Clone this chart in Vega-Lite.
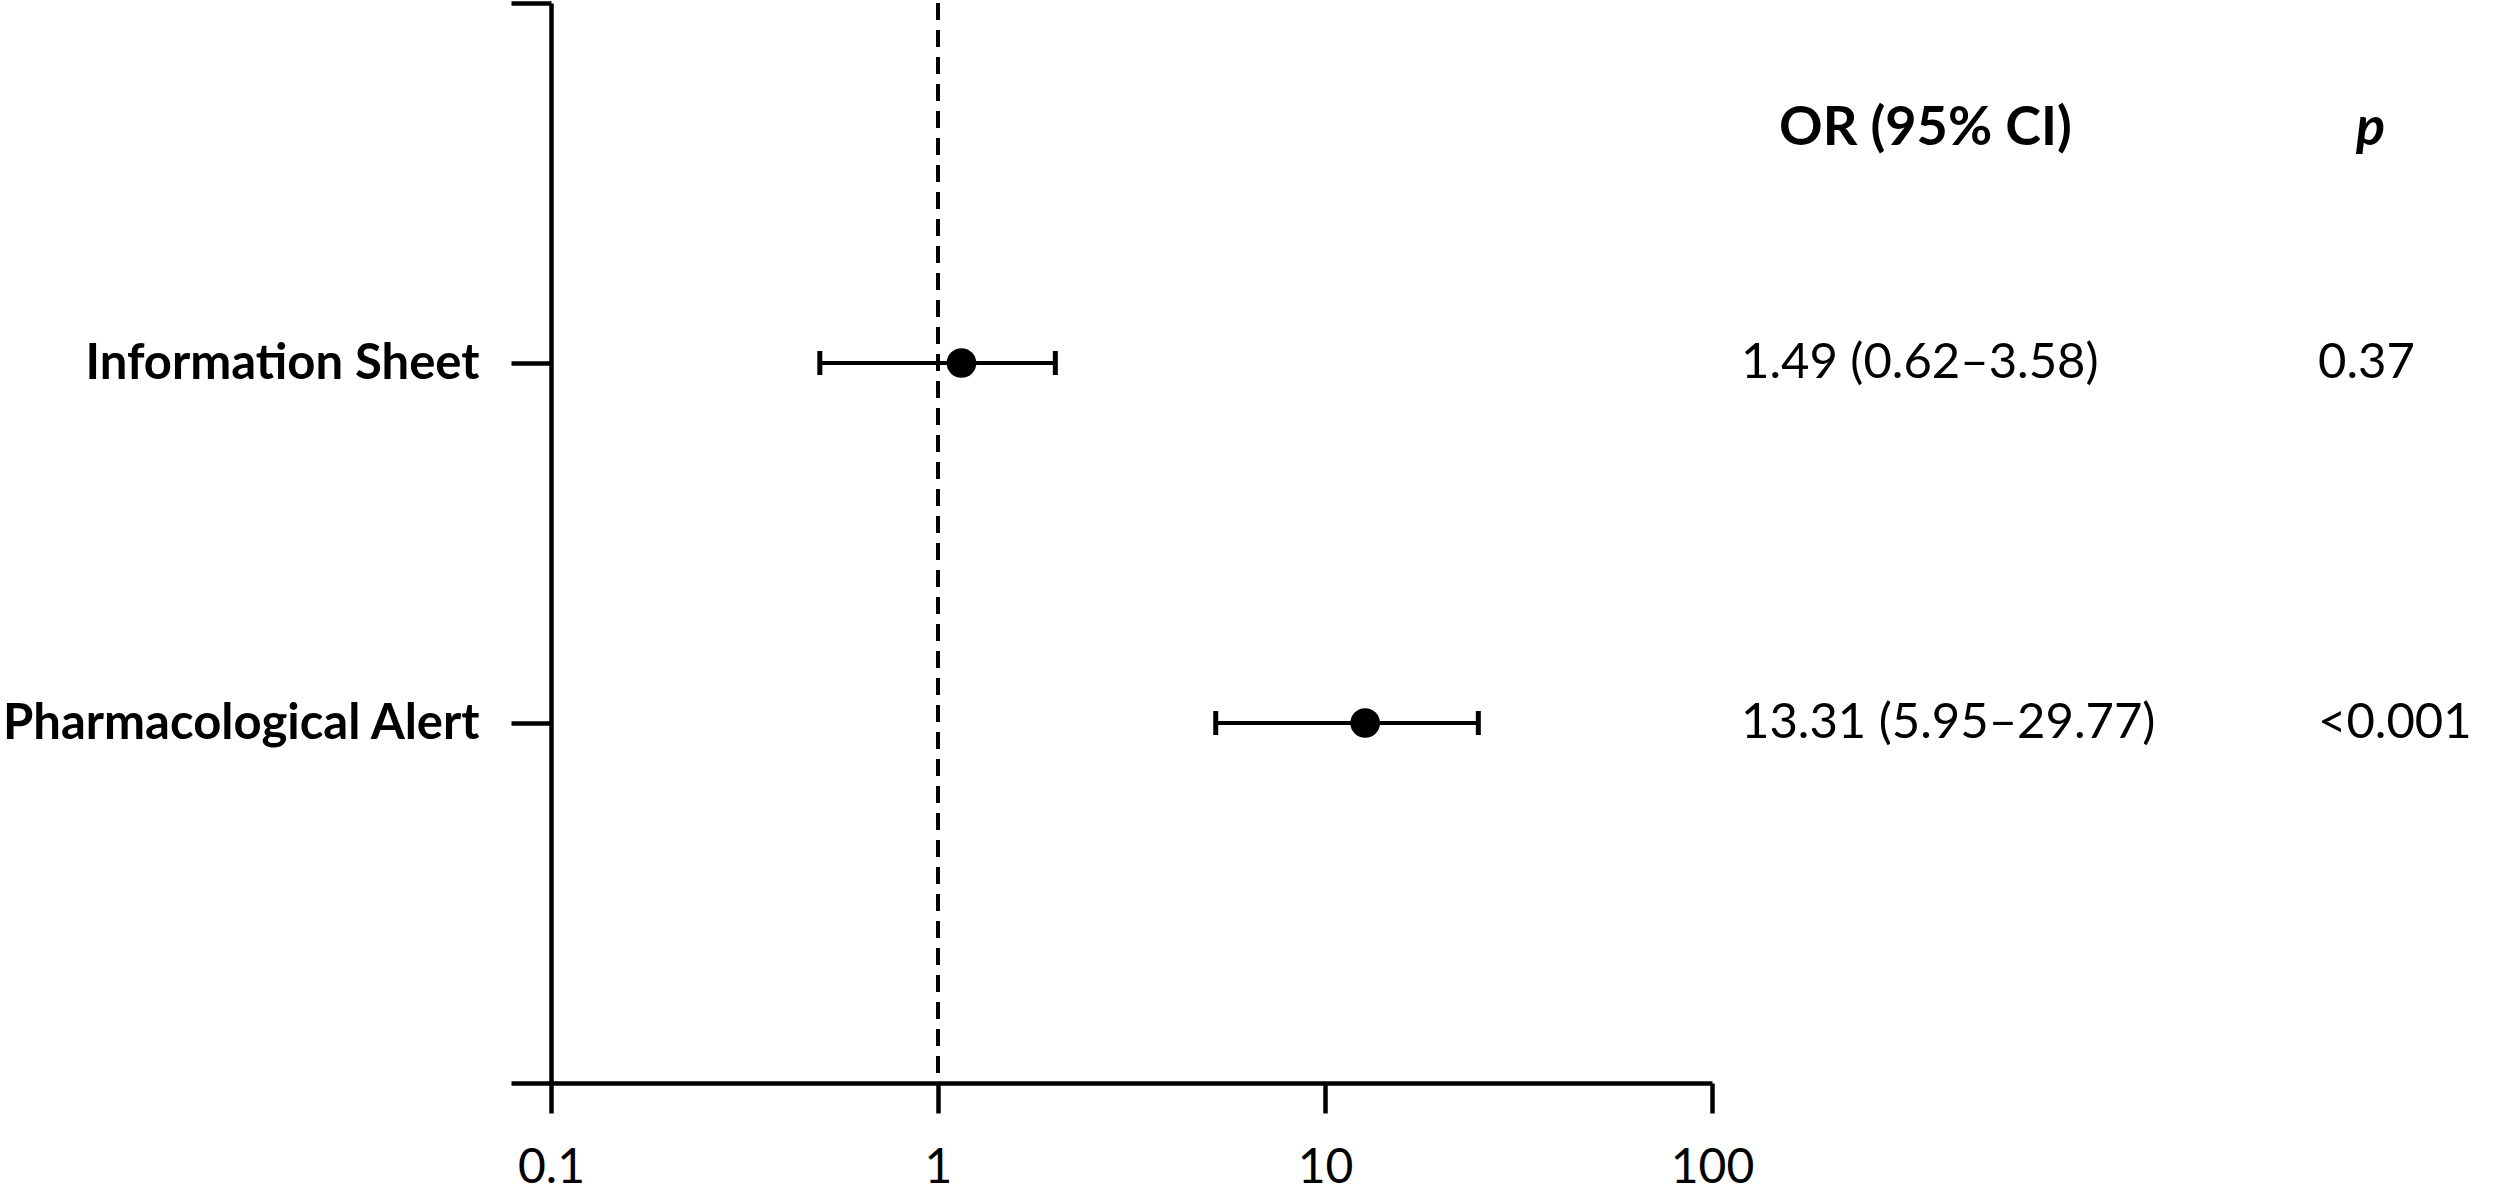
{
  "$schema": "https://vega.github.io/schema/vega-lite/v6.json",
  "padding": 0,
  "background": "white",
  "bounds": "flush",
  "spacing": 29,
  "config": {"view": {"stroke": null}, "font": "Lato"},
  "datasets": {
    "est": [
      {"row": "Information Sheet", "or": 1.15, "lo": 0.495, "hi": 2.01},
      {"row": "Pharmacological Alert", "or": 12.7, "lo": 5.22, "hi": 24.9}
    ],
    "table": [
      {"row": "Information Sheet", "col": "ci", "text": "1.49 (0.62–3.58)"},
      {"row": "Information Sheet", "col": "p", "text": "0.37"},
      {"row": "Pharmacological Alert", "col": "ci", "text": "13.31 (5.95–29.77)"},
      {"row": "Pharmacological Alert", "col": "p", "text": "<0.001"}
    ],
    "headers": [
      {"row": "top", "col": "ci", "text": "OR (95% CI)"},
      {"row": "top", "col": "p", "text": "p"}
    ]
  },
  "hconcat": [
    {
      "width": 1161,
      "height": 1080,
      "data": {"name": "est"},
      "encoding": {
        "y": {
          "field": "row",
          "type": "nominal",
          "scale": {"type": "point", "domain": ["top", "Information Sheet", "Pharmacological Alert", "bottom"], "padding": 0},
          "axis": {
            "title": null,
            "labelExpr": "datum.value == 'top' || datum.value == 'bottom' ? '' : datum.value",
            "domainWidth": 4.5, "domainColor": "black",
            "tickWidth": 4.5, "tickColor": "black", "tickSize": 40,
            "labelPadding": 32, "labelFont": "Lato",
            "labelFontSize": {"condition": {"test": "datum.value == 'top' || datum.value == 'bottom'", "value": 1}, "value": 49},
            "labelBaseline": {"condition": {"test": "datum.value == 'top'", "value": "top"}, "value": "middle"},
            "labelFontWeight": "bold",
            "labelColor": "black", "labelLimit": 0, "grid": false
          }
        }
      },
      "layer": [
        {
          "mark": {"type": "rule", "strokeDash": [17, 10], "strokeWidth": 4, "color": "black"},
          "encoding": {"x": {"datum": 1, "type": "quantitative"}, "y": null}
        },
        {
          "mark": {"type": "rule", "strokeWidth": 4, "color": "black"},
          "encoding": {
            "x": {"field": "lo", "type": "quantitative"},
            "x2": {"field": "hi"}
          }
        },
        {
          "mark": {"type": "tick", "orient": "vertical", "size": 24, "thickness": 5, "color": "black", "opacity": 1},
          "encoding": {"x": {"field": "lo", "type": "quantitative"}}
        },
        {
          "mark": {"type": "tick", "orient": "vertical", "size": 24, "thickness": 5, "color": "black", "opacity": 1},
          "encoding": {"x": {"field": "hi", "type": "quantitative"}}
        },
        {
          "mark": {"type": "circle", "size": 880, "color": "black", "opacity": 1},
          "encoding": {
            "x": {
              "field": "or",
              "type": "quantitative",
              "scale": {"type": "log", "domain": [0.1, 100], "nice": false},
              "axis": {
                "title": null,
                "values": [0.1, 1, 10, 100],
                "format": "~g",
                "grid": false,
                "domainWidth": 4.5, "domainColor": "black",
                "tickWidth": 4.5, "tickColor": "black", "tickSize": 30,
                "labelFont": "Lato", "labelFontSize": 48, "labelColor": "black",
                "labelPadding": 31, "labelFlush": false
              }
            }
          }
        }
      ]
    },
    {
      "width": 577,
      "height": 1080,
      "encoding": {
        "x": {"field": "col", "type": "nominal", "scale": {"type": "point", "domain": ["ci", "p"], "padding": 0}, "axis": null},
        "y": {"field": "row", "type": "nominal", "scale": {"type": "point", "domain": ["top", "Information Sheet", "Pharmacological Alert", "bottom"], "padding": 0}, "axis": null},
        "text": {"field": "text"}
      },
      "layer": [
        {
          "data": {"name": "table"},
          "mark": {"type": "text", "align": "left", "baseline": "middle", "font": "Lato", "fontSize": 49, "color": "black"}
        },
        {
          "data": {"name": "headers"},
          "transform": [{"filter": "datum.col == 'ci'"}],
          "mark": {"type": "text", "align": "left", "baseline": "middle", "font": "Lato", "fontSize": 54, "fontWeight": "bold", "color": "black", "dx": 38, "dy": 126}
        },
        {
          "data": {"name": "headers"},
          "transform": [{"filter": "datum.col == 'p'"}],
          "mark": {"type": "text", "align": "left", "baseline": "middle", "font": "Lato", "fontSize": 54, "fontWeight": "bold", "fontStyle": "italic", "color": "black", "dx": 38, "dy": 126}
        }
      ]
    }
  ]
}
